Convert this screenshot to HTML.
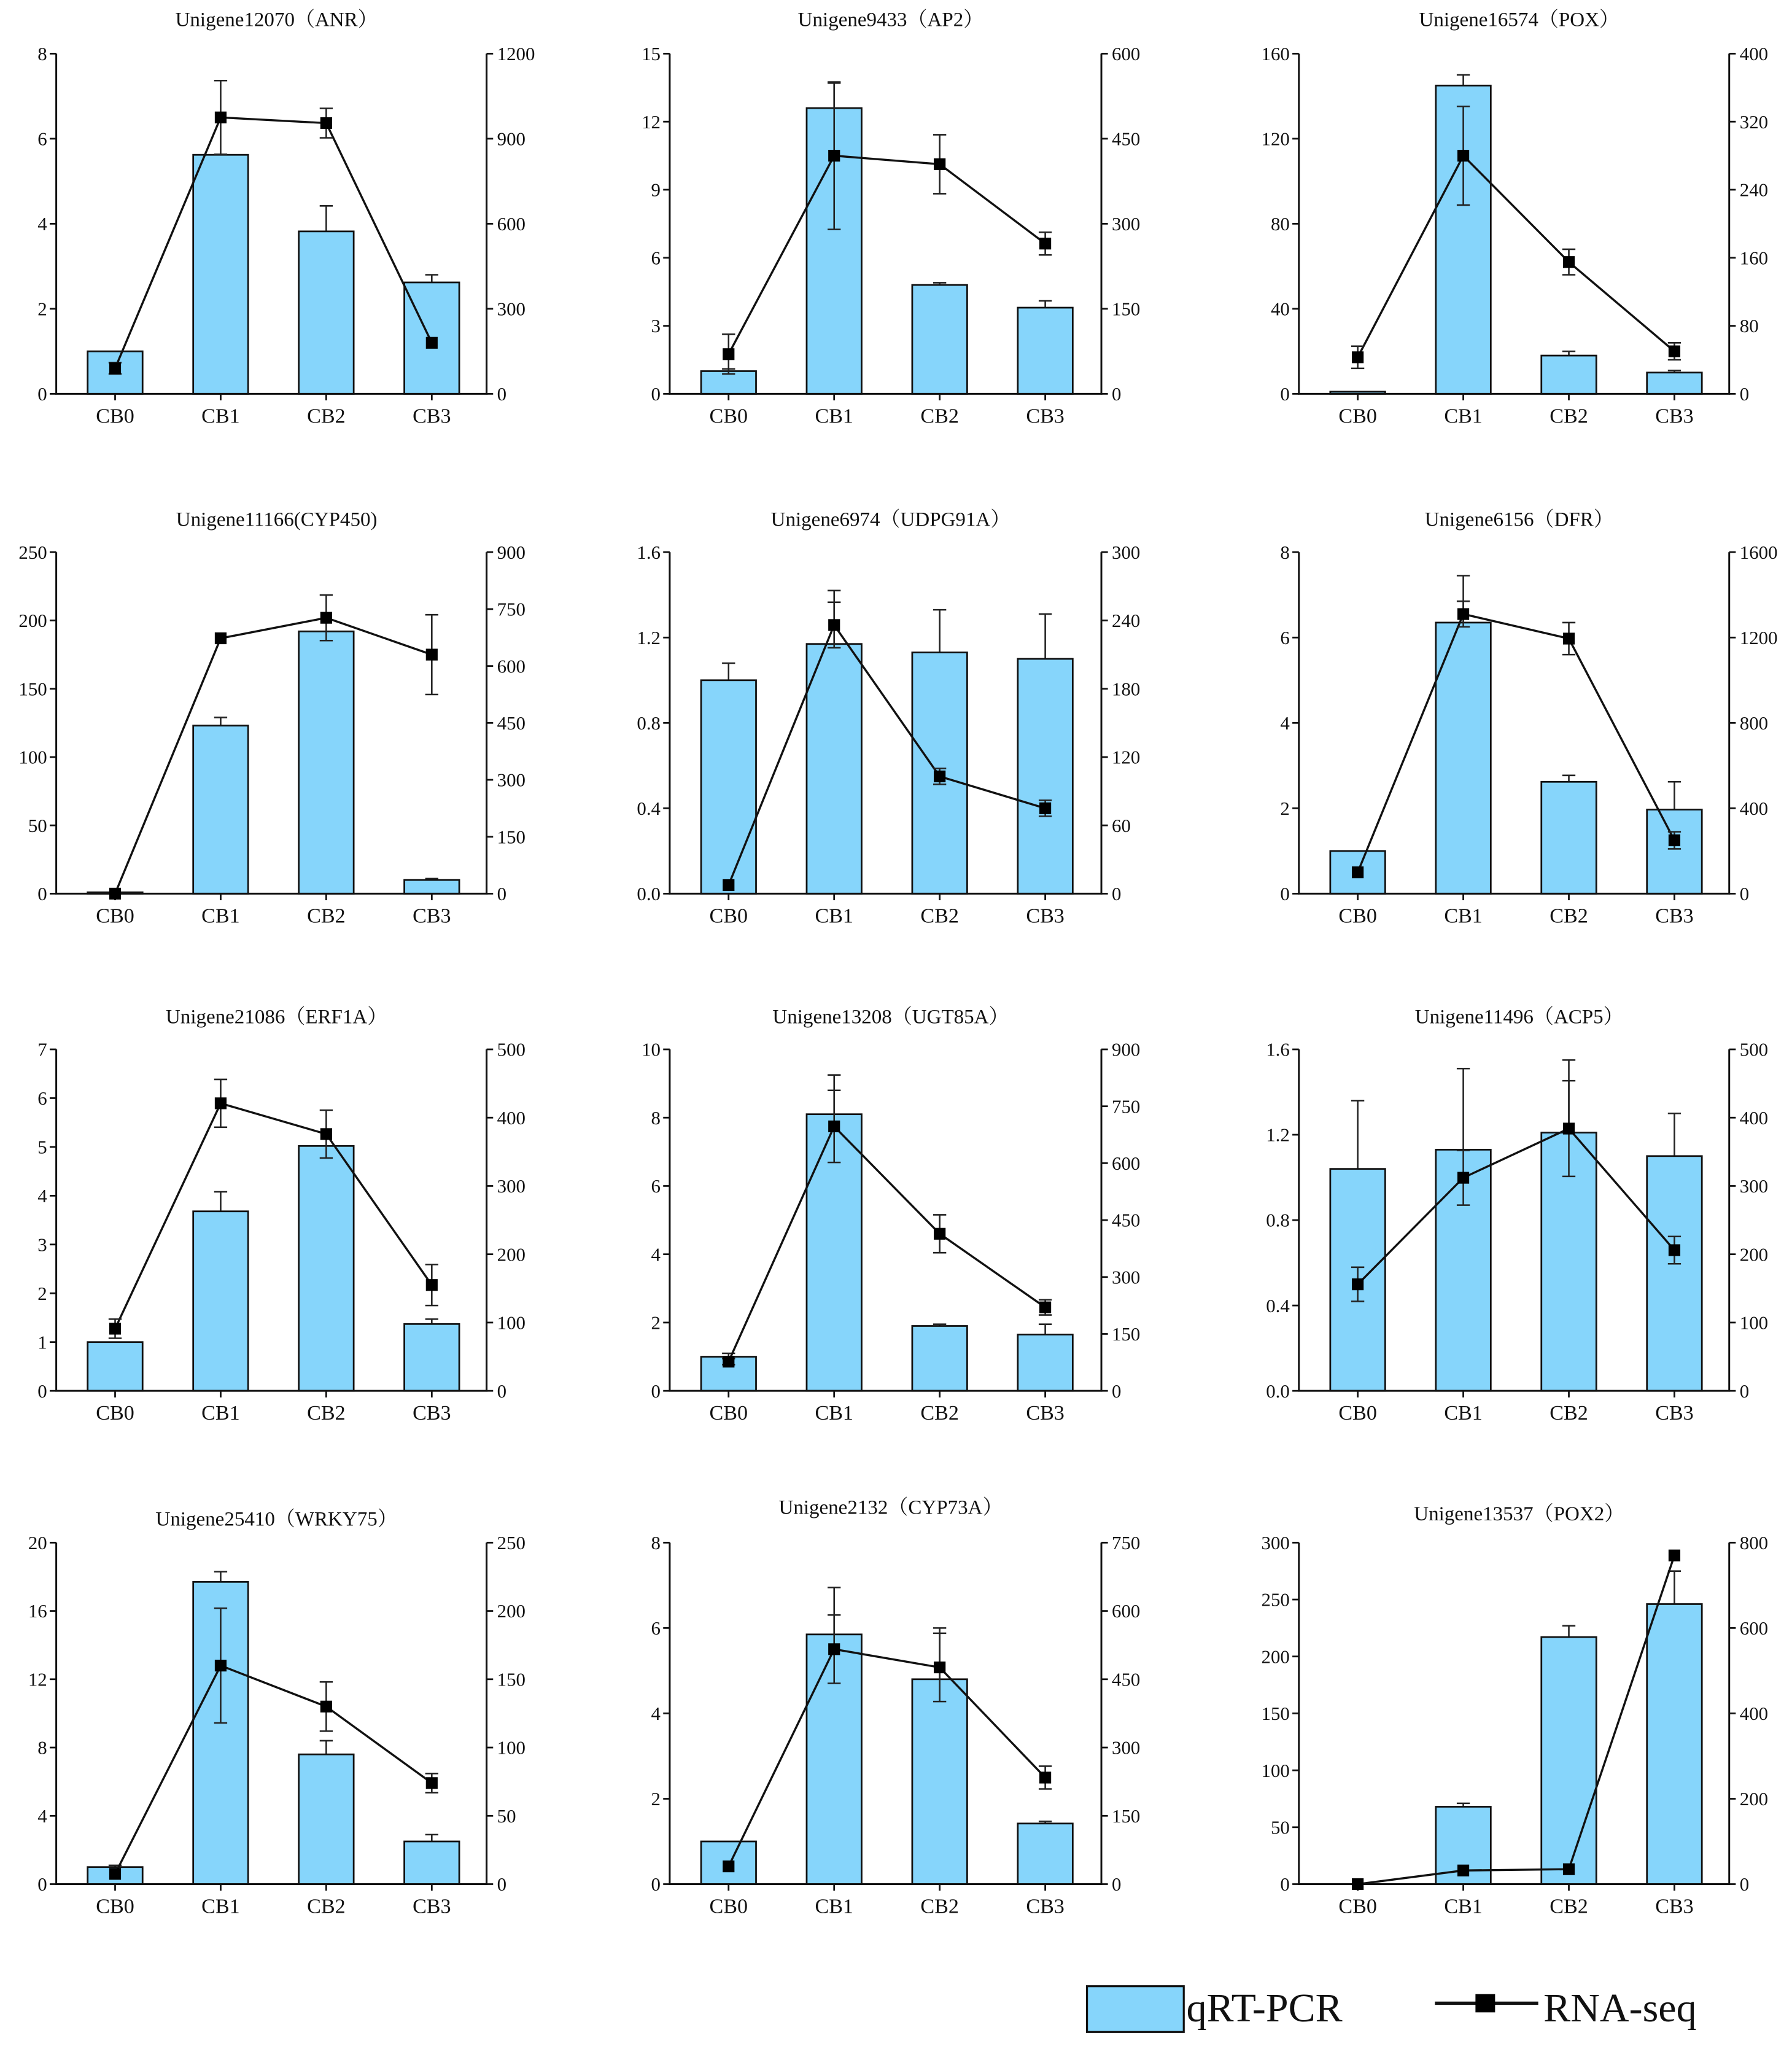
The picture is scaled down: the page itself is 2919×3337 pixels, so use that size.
<!DOCTYPE html>
<html><head><meta charset="utf-8">
<style>
html,body{margin:0;padding:0;background:#fff;}
svg{display:block;}
svg text{font-family:"Liberation Serif","Noto Serif CJK SC",serif !important;fill:#111;}
</style></head>
<body>
<svg id="fig" width="2919" height="3337" viewBox="0 0 1370 1566" preserveAspectRatio="none" font-family="Liberation Serif, Noto Serif CJK SC, serif" xmlns="http://www.w3.org/2000/svg"></svg>
<script>
const categories = ["CB0","CB1","CB2","CB3"];
const titles = ["Unigene12070（ANR）","Unigene9433（AP2）","Unigene16574（POX）","Unigene11166(CYP450)","Unigene6974（UDPG91A）","Unigene6156（DFR）","Unigene21086（ERF1A）","Unigene13208（UGT85A）","Unigene11496（ACP5）","Unigene25410（WRKY75）","Unigene2132（CYP73A）","Unigene13537（POX2）"];
const leftTicks = [[0,2,4,6,8],[0,3,6,9,12,15],[0,40,80,120,160],[0,50,100,150,200,250],[0,0.4,0.8,1.2,1.6],[0,2,4,6,8],[0,1,2,3,4,5,6,7],[0,2,4,6,8,10],[0,0.4,0.8,1.2,1.6],[0,4,8,12,16,20],[0,2,4,6,8],[0,50,100,150,200,250,300]];
const leftLabels = [null,null,null,null,["0.0","0.4","0.8","1.2","1.6"],null,null,null,["0.0","0.4","0.8","1.2","1.6"],null,null,null];
const rightTicks = [[0,300,600,900,1200],[0,150,300,450,600],[0,80,160,240,320,400],[0,150,300,450,600,750,900],[0,60,120,180,240,300],[0,400,800,1200,1600],[0,100,200,300,400,500],[0,150,300,450,600,750,900],[0,100,200,300,400,500],[0,50,100,150,200,250],[0,150,300,450,600,750],[0,200,400,600,800]];
const barValues = [[1.0,5.62,3.82,2.62],[1.0,12.6,4.8,3.8],[1,145,18,10],[1,123,192,10],[1.0,1.17,1.13,1.1],[1,6.35,2.62,1.97],[1,3.68,5.02,1.37],[1,8.1,1.9,1.65],[1.04,1.13,1.21,1.1],[1,17.7,7.6,2.5],[1,5.85,4.8,1.42],[0,68,217,246]];
const barErrors = [[0,0,0.6,0.18],[0.1,1.1,0.1,0.3],[0,5,2,1],[0,6,0,1],[0.08,0.25,0.2,0.21],[0,1.1,0.15,0.65],[0,0.4,0,0.1],[0.1,1.15,0.05,0.3],[0.32,0.38,0.34,0.2],[0.1,0.6,0.8,0.4],[0,1.1,1.2,0.05],[0,3,10,29]];
const lineValues = [[90,975,955,180],[70,420,405,265],[43,280,155,50],[0,673,727,630],[7.5,236,103,75],[100,1310,1195,250],[91,421,376,155],[77,697,414,220],[156,312,384,206],[7.5,160,130,74],[39,516,476,234],[0,32,35,770]];
const lineErrors = [[20,130,52,0],[35,130,52,20],[13,58,15,10],[0,0,60,105],[0,20,7,7],[0,60,75,40],[14,35,35,30],[8,95,50,20],[25,40,70,20],[0,42,18,7],[0,75,75,25],[0,0,0,0]];

const NS="http://www.w3.org/2000/svg";
const svg=document.getElementById('fig');
const FF="Liberation Serif, Noto Serif CJK SC, serif";
function mk(tag,attrs,parent){const e=document.createElementNS(NS,tag);for(const k in attrs)e.setAttribute(k,attrs[k]);if(tag==='text')e.setAttribute('font-family',FF);(parent||svg).appendChild(e);return e;}
const colL=[43,512,993], colR=[372,842,1322];
const rowT=[41,422,802,1179], rowB=[301,683,1063,1440];
const titleY=[15,397,777,1161];
const titleYOverride={10:1152,11:1157};

for(let p=0;p<12;p++){
  const c=p%3, r=Math.floor(p/3);
  const L=colL[c], R=colR[c], T=rowT[r], B=rowB[r];
  const g=mk('g',{});
  
  
  const lt=leftTicks[p], rt=rightTicks[p];
  const lmax=lt[lt.length-1], rmax=rt[rt.length-1];
  const yL=v=>B-(v/lmax)*(B-T);
  const yR=v=>B-(v/rmax)*(B-T);
  const xC=i=>L+45+i*80.7;
  const ty=titleYOverride[p]||titleY[r];
  const t=mk('text',{x:(L+R)/2+4,y:ty+5,'text-anchor':'middle','font-size':15.5},g);
  t.textContent=titles[p];
  
  
  for(let i=0;i<4;i++){
    const v=barValues[p][i], e=barErrors[p][i], x=xC(i);
    if(e>0){
      const ln=mk('path',{d:`M${x},${yL(v)} V${yL(v+e)} M${x-5},${yL(v+e)} H${x+5}`,stroke:'#222','stroke-width':1.2,fill:'none'},g);
      
      
    }
    const b=mk('rect',{x:x-21,y:yL(v),width:42,height:B-yL(v),fill:'#86d5fb',stroke:'#111','stroke-width':1.3},g);
    
    
  }
  const ax=mk('path',{d:`M${L},${T} V${B} H${R} V${T}`,stroke:'#111','stroke-width':1.4,fill:'none'},g);
  
  
  lt.forEach((v,k)=>{
    mk('line',{x1:L-5,x2:L,y1:yL(v),y2:yL(v),stroke:'#111','stroke-width':1.3},g);
    const tx=mk('text',{x:L-7,y:yL(v)+5,'text-anchor':'end','font-size':14.5},g);
    tx.textContent=leftLabels[p]?leftLabels[p][k]:String(v);
    
    
  });
  rt.forEach(v=>{
    mk('line',{x1:R,x2:R+5,y1:yR(v),y2:yR(v),stroke:'#111','stroke-width':1.3},g);
    const tx=mk('text',{x:R+8,y:yR(v)+5,'text-anchor':'start','font-size':14.5},g);
    tx.textContent=String(v);
    
    
  });
  categories.forEach((cat,i)=>{
    mk('line',{x1:xC(i),x2:xC(i),y1:B,y2:B+5,stroke:'#111','stroke-width':1.3},g);
    const tx=mk('text',{x:xC(i),y:B+22,'text-anchor':'middle','font-size':16},g);
    tx.textContent=cat;
    
    
  });
  const pts=lineValues[p].map((v,i)=>[xC(i),yR(v)]);
  const pl=mk('polyline',{points:pts.map(q=>q.join(',')).join(' '),fill:'none',stroke:'#111','stroke-width':1.6},g);
  
  
  lineValues[p].forEach((v,i)=>{
    const e=lineErrors[p][i], x=xC(i);
    if(e>0){
      const el=mk('path',{d:`M${x},${yR(v+e)} V${yR(Math.max(0,v-e))} M${x-5},${yR(v+e)} H${x+5} M${x-5},${yR(Math.max(0,v-e))} H${x+5}`,stroke:'#222','stroke-width':1.2,fill:'none'},g);
      
      
    }
    const m=mk('rect',{x:x-4.5,y:yR(v)-4.5,width:9,height:9,fill:'#000'},g);
    
    
  });
}
const lg=mk('g',{});


const lb=mk('rect',{x:831,y:1518,width:74,height:35,fill:'#86d5fb',stroke:'#111','stroke-width':1.5},lg);


const lt1=mk('text',{x:907,y:1545,'font-size':31},lg);
lt1.textContent='qRT-PCR';


const ll=mk('line',{x1:1097,x2:1176,y1:1531,y2:1531,stroke:'#111','stroke-width':2.5},lg);


mk('rect',{x:1128,y:1524,width:15,height:14,fill:'#000'},lg);
const lt2=mk('text',{x:1180,y:1545,'font-size':31},lg);
lt2.textContent='RNA-seq';


</script>
</body></html>
